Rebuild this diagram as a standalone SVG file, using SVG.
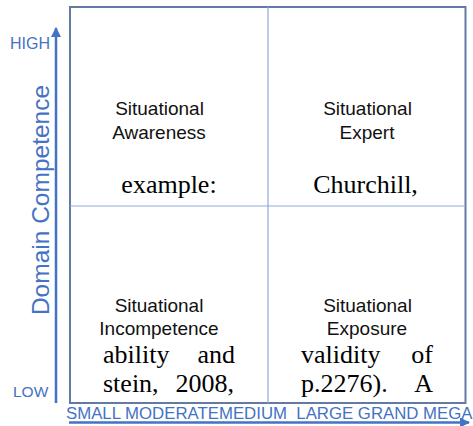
<svg xmlns="http://www.w3.org/2000/svg" width="473" height="426" viewBox="0 0 473 426">
<style>
.ax{stroke:#4472c4;stroke-width:2.5;fill:none}
.axt{font-family:"Liberation Sans",Arial,sans-serif;fill:#4472c4}
.lab{font-family:"Liberation Sans",Arial,sans-serif;font-size:19px;fill:#111;text-anchor:middle}
.ser{font-family:"Liberation Serif","Times New Roman",serif;font-size:26px;fill:#000}
.grid{stroke:#8eaadb;stroke-width:1.2}
</style>
<defs>
<marker id="ah" viewBox="0 0 10 10" refX="9" refY="5" markerWidth="4" markerHeight="4" orient="auto" markerUnits="strokeWidth">
<path d="M0,0 L10,5 L0,10 z" fill="#4472c4"/>
</marker>
</defs>
<rect width="473" height="426" fill="#fff"/>
<g id="frame">
<rect x="70" y="7" width="395.5" height="396" fill="none" stroke="#6479a3" stroke-width="2"/>
<line class="grid" x1="268" y1="7" x2="268" y2="403"/>
<line class="grid" x1="70" y1="206" x2="465.5" y2="206"/>
</g>
<g id="connectors">
<line class="ax" x1="56" y1="403" x2="56" y2="28" marker-end="url(#ah)"/>
<line class="ax" x1="69" y1="422.5" x2="469" y2="422.5" marker-end="url(#ah)"/>
</g>
<g id="axis-labels">
<text class="axt" x="10" y="49" font-size="16">HIGH</text>
<text class="axt" x="13" y="397" font-size="15.5">LOW</text>
<text class="axt" font-size="24.5" text-anchor="middle" transform="translate(49,200) rotate(-90)">Domain Competence</text>
<text class="axt" x="66" y="418.5" font-size="16.8" xml:space="preserve">SMALL MODERATEMEDIUM  LARGE GRAND MEGA</text>
</g>
<g id="q-awareness">
<text class="lab" x="159.5" y="115">Situational</text>
<text class="lab" x="159" y="139">Awareness</text>
<text class="ser" x="169" y="193" text-anchor="middle">example:</text>
</g>
<g id="q-expert">
<text class="lab" x="367.5" y="115">Situational</text>
<text class="lab" x="367" y="139">Expert</text>
<text class="ser" x="365.5" y="193" text-anchor="middle">Churchill,</text>
</g>
<g id="q-incompetence">
<text class="lab" x="159" y="312">Situational</text>
<text class="lab" x="159" y="335">Incompetence</text>
<text class="ser" y="363"><tspan x="103">ability</tspan><tspan x="235" text-anchor="end">and</tspan></text>
<text class="ser" y="392"><tspan x="103">stein,</tspan><tspan x="234" text-anchor="end">2008,</tspan></text>
</g>
<g id="q-exposure">
<text class="lab" x="367.5" y="312">Situational</text>
<text class="lab" x="367" y="335">Exposure</text>
<text class="ser" y="363"><tspan x="301">validity</tspan><tspan x="433" text-anchor="end">of</tspan></text>
<text class="ser" y="392"><tspan x="301">p.2276).</tspan><tspan x="433" text-anchor="end">A</tspan></text>
</g>
</svg>
